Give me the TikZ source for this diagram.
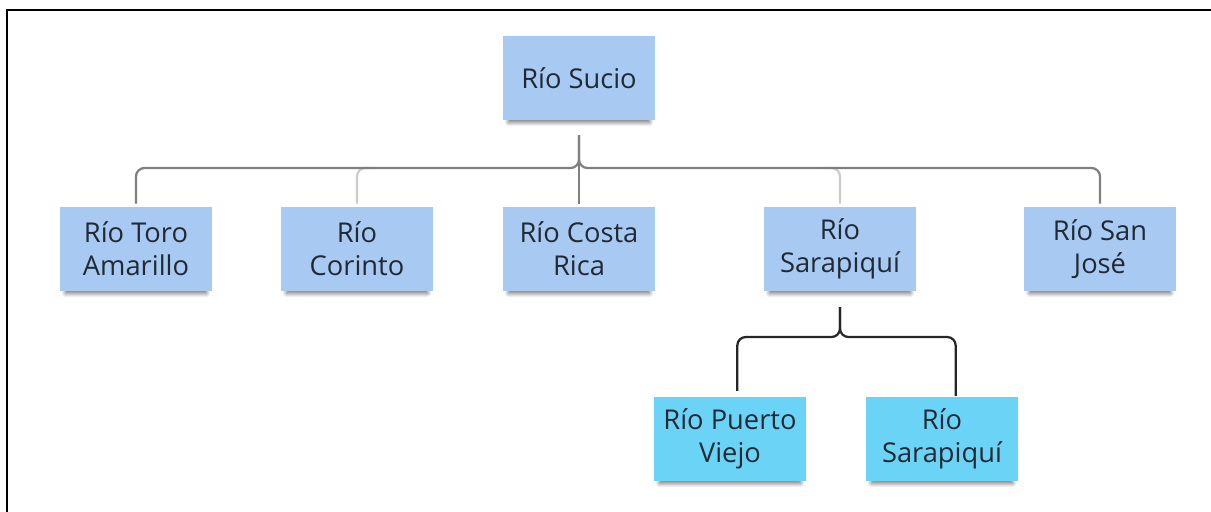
\documentclass[tikz,border=0pt]{standalone}
\usepackage{fontspec}
\setmainfont{Open Sans}
\usetikzlibrary{shadows.blur}
\definecolor{notablue}{HTML}{A8C9F1}
\definecolor{notacyan}{HTML}{6BD4F6}
\definecolor{inktext}{HTML}{1F2A35}
\tikzset{
	nota/.style={fill=notablue,minimum width=3.8cm,minimum height=2.075cm,align=center,
		text=inktext,font=\fontsize{19.4}{23.5}\selectfont,
		blur shadow={shadow xshift=0pt,shadow yshift=-4.5pt,shadow scale=0.93,
			shadow blur steps=8,shadow blur radius=3pt,shadow opacity=55}},
	notac/.style={nota,fill=notacyan},
	rama/.style={draw=black!50,line width=1.6pt,rounded corners=6},
	ramaclara/.style={draw=black!20,line width=1.6pt,rounded corners=6},
	ramanegra/.style={draw=black!85,line width=1.6pt,rounded corners=6}
}
\begin{document}
\begin{tikzpicture}[x=0.025cm,y=-0.025cm]
	\useasboundingbox (0,0) rectangle (1211,512);
	\draw[line width=1.6pt] (7,512)--(7,10)--(1211,10);
	% nodos
	\node[nota] (sucio) at (579,78) {Río Sucio};
	\node[nota] (toro) at (136,249) {Río Toro\\Amarillo};
	\node[nota] (corinto) at (357,249) {Río\\Corinto};
	\node[nota] (costa) at (579,249) {Río Costa\\Rica};
	\node[nota] (sarapiqui) at (840,249) {Río\\Sarapiquí};
	\node[nota] (sanjose) at (1100,249) {Río San\\José};
	\node[notac] (puerto) at (730,439) {Río Puerto\\Viejo};
	\node[notac] (sarapiquib) at (942,439) {Río\\Sarapiquí};
	% puntos de union
	\coordinate (arriba) at (579,135);
	\coordinate (eje) at (579,168);
	\coordinate (abajo) at (840,307);
	\coordinate (ejeb) at (840,337);
	% ramas del primer nivel
	\draw[ramaclara] ([yshift=2.5pt]corinto.north) |- ([xshift=12]corinto.north |- eje);
	\draw[ramaclara] ([yshift=2.5pt]sarapiqui.north) |- ([xshift=-12]sarapiqui.north |- eje);
	\draw[rama] ([yshift=2.5pt]toro.north) |- (eje) -- (arriba);
	\draw[rama] ([yshift=2.5pt]sanjose.north) |- (eje) -- (arriba);
	\draw[rama] (arriba) -- ([yshift=2.5pt]costa.north);
	% ramas del segundo nivel
	\draw[ramanegra] ([xshift=5.2pt,yshift=4.5pt]puerto.north) |- (ejeb) -- (abajo);
	\draw[ramanegra] ([xshift=9.7pt,yshift=1pt]sarapiquib.north) |- (ejeb) -- (abajo);
\end{tikzpicture}
\end{document}
